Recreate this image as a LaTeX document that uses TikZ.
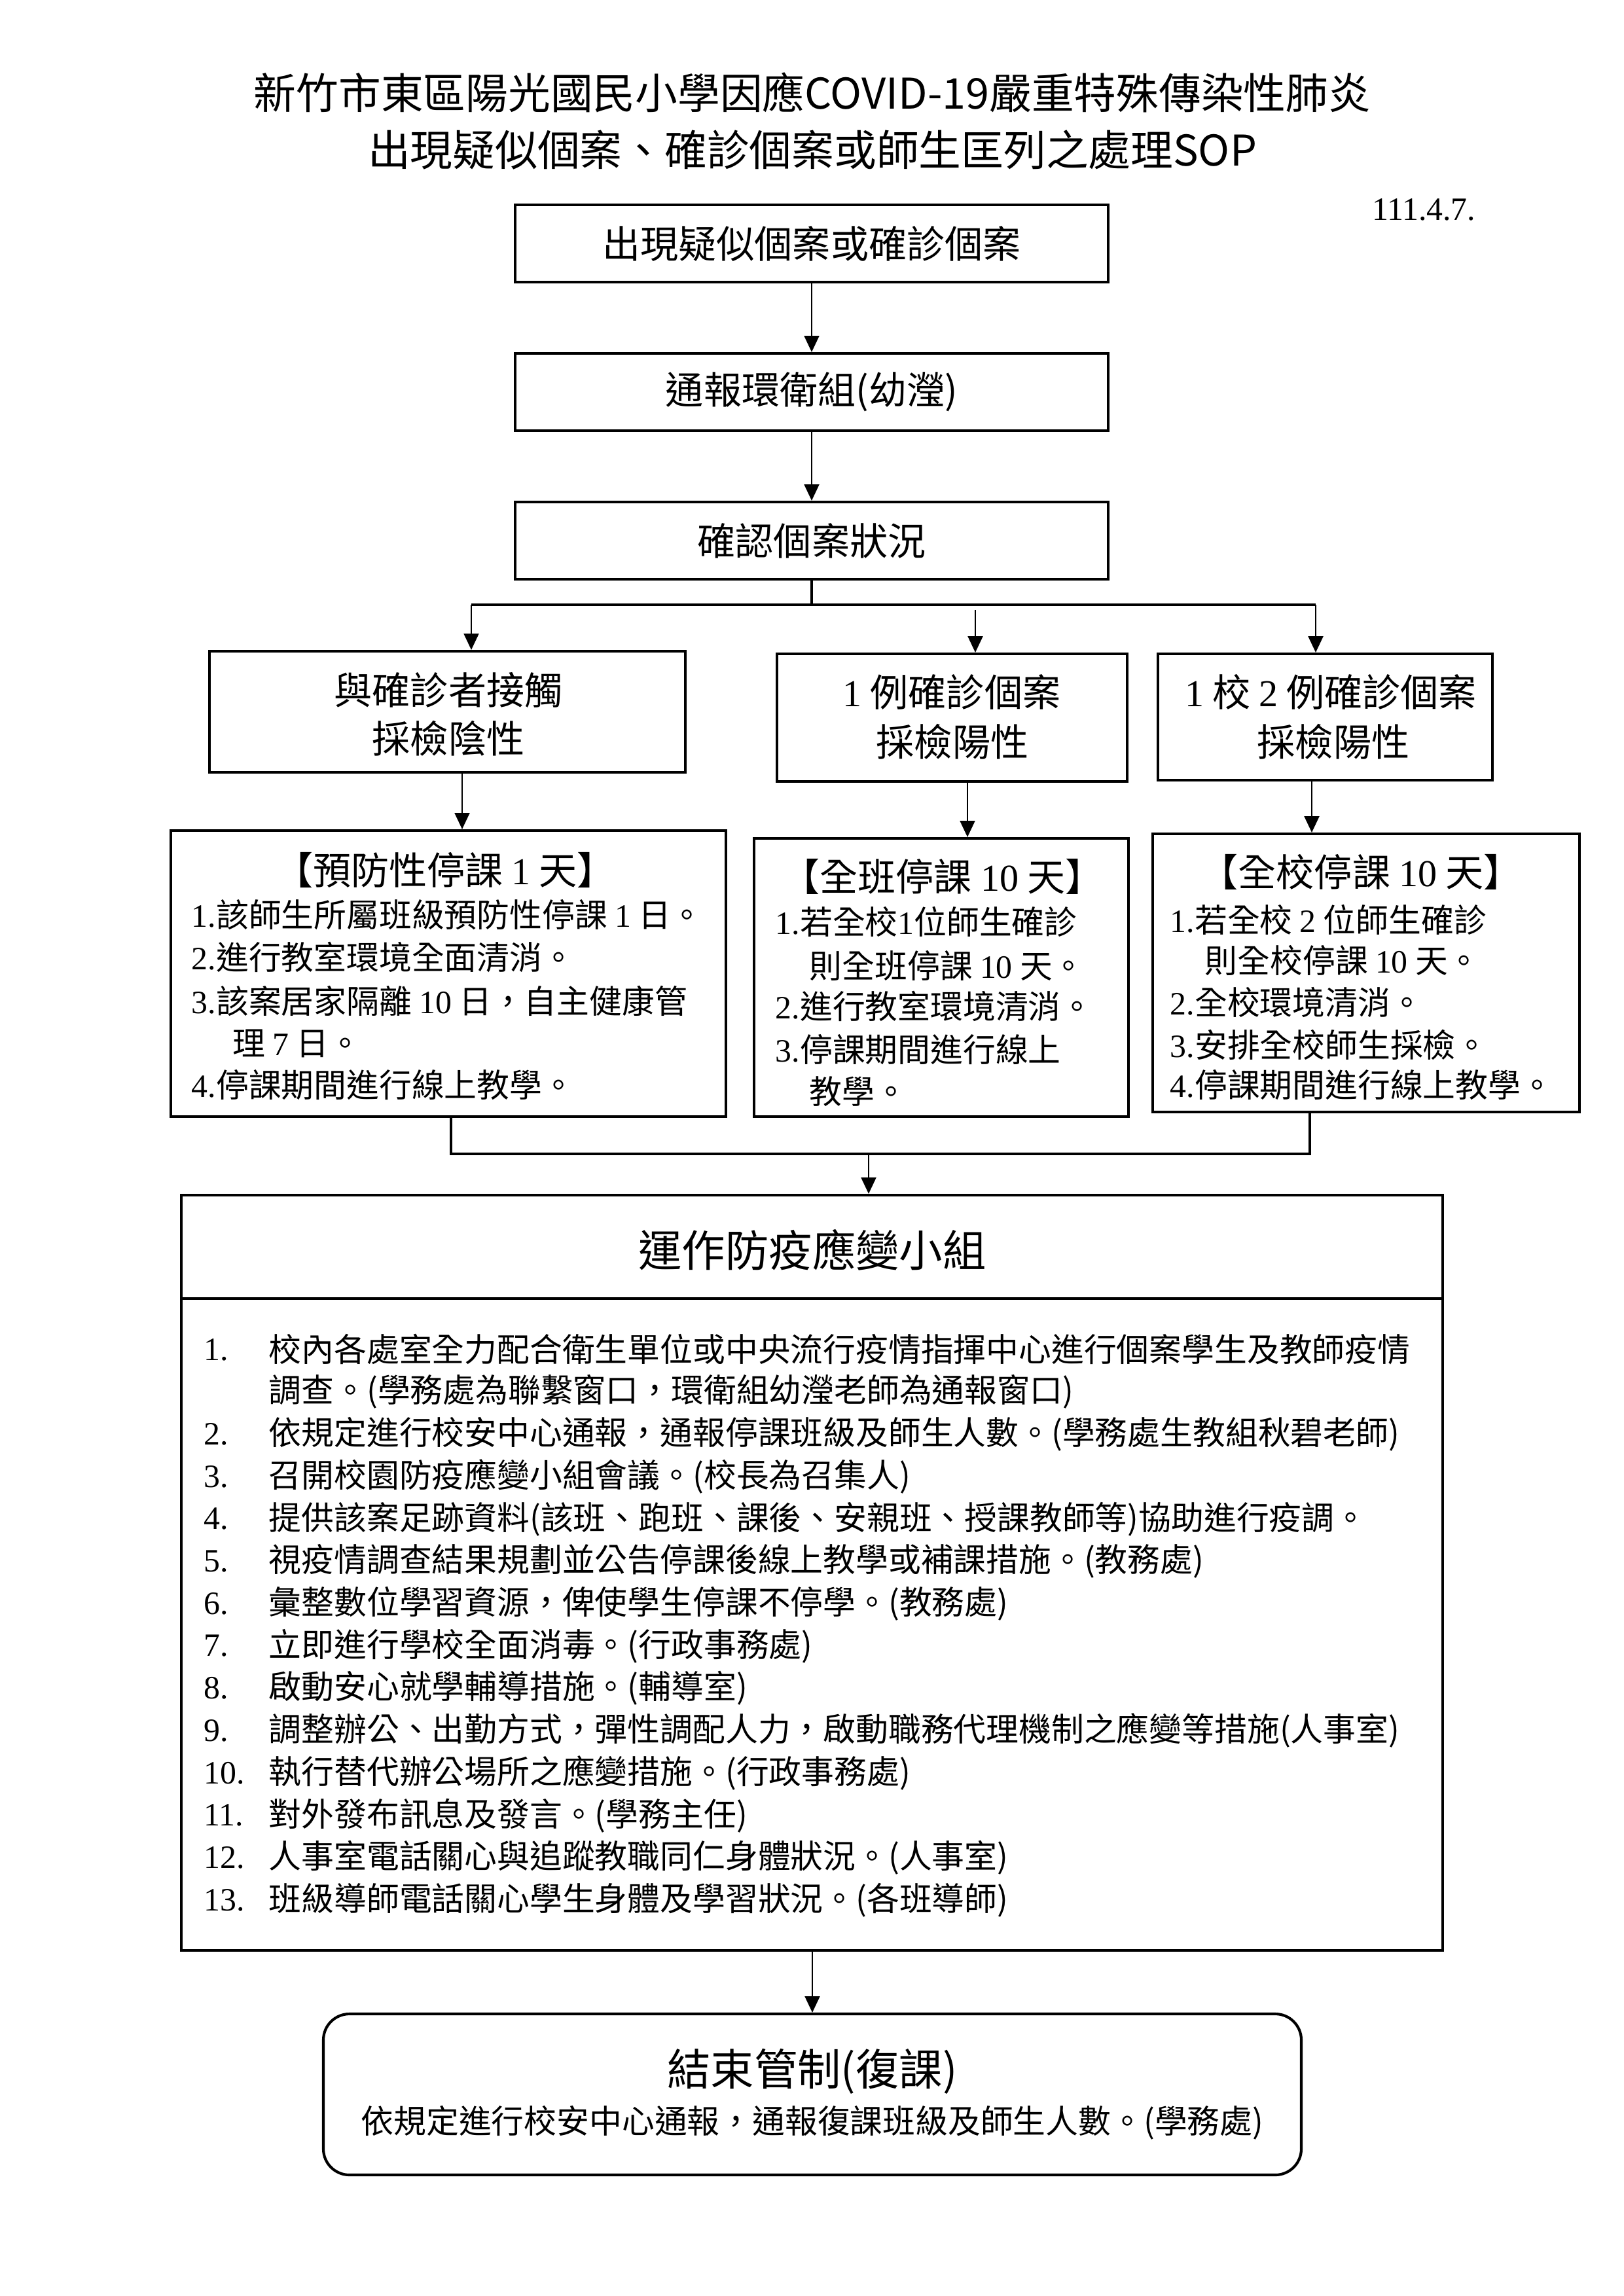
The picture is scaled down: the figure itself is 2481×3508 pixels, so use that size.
\documentclass[tikz,border=0pt]{standalone}
\usepackage{fontspec}
\setmainfont{Noto Sans CJK TC}
\newfontfamily\tm{Liberation Serif}
\usetikzlibrary{fit,arrows.meta}
\newcommand\nm[1]{{\tm #1}}
\tikzset{
  box/.style={draw, line width=1pt, inner sep=0pt},
  arr/.style={line width=0.6pt, -{Triangle[length=6pt,width=5.5pt]}},
  ln/.style={line width=0.8pt},
  t12/.style={font=\fontsize{12pt}{15pt}\selectfont, inner sep=0pt},
  t14/.style={font=\fontsize{14pt}{17pt}\selectfont, inner sep=0pt},
  t16/.style={font=\fontsize{16pt}{19pt}\selectfont, inner sep=0pt},
  ttl/.style={font=\fontsize{15.6pt}{19pt}\selectfont, inner sep=0pt},
  it12/.style={t12, anchor=west},
}
\begin{document}
\begin{tikzpicture}[x=0.2409pt,y=-0.2409pt]
\fill[white] (0,0) rectangle (2481,3508);
\useasboundingbox (0,0) rectangle (2481,3508);

% title
\node[ttl] (title1) at (1241,141) {新竹市東區陽光國民小學因應COVID-19嚴重特殊傳染性肺炎};
\node[ttl] (title2) at (1241,229) {出現疑似個案、確診個案或師生匡列之處理SOP};
\node[anchor=east, inner sep=0pt, font=\tm\fontsize{12pt}{14pt}\selectfont] (date) at (2255,320) {111.4.7.};

% top chain
\node[box, fit={(787,313) (1693,431)}] (b1) {};
\node[t14] (b1t) at (b1.center) {出現疑似個案或確診個案};
\node[box, fit={(787,540) (1693,658)}] (b2) {};
\node[t14] (b2t) at (b2.center) {通報環衛組(幼瀅)};
\node[box, fit={(787,767) (1693,885)}] (b3) {};
\node[t14] (b3t) at (b3.center) {確認個案狀況};
\draw[arr] (b1.south) -- (b2.north);
\draw[arr] (b2.south) -- (b3.north);

% branch
\coordinate (brL) at (720,924);
\coordinate (brR) at (2010,924);
\coordinate (brM) at (1490,932);
\draw[ln] (b3.south) -- (b3.south |- brL);
\draw[ln] (brL) -- (brR);

% second row
\node[box, fit={(320,995) (1047,1180)}] (b4) {};
\node[t14] (b4a) at (685,1054) {與確診者接觸};
\node[t14] (b4b) at (685,1128) {採檢陰性};
\node[box, fit={(1187,999) (1722,1194)}] (b5) {};
\node[t14] (b5a) at (1454,1057) {\nm{1} 例確診個案};
\node[t14] (b5b) at (1455,1133) {採檢陽性};
\node[box, fit={(1769,999) (2280,1192)}] (b6) {};
\node[t14] (b6a) at (2033,1057) {\nm{1} 校 \nm{2} 例確診個案};
\node[t14] (b6b) at (2037,1133) {採檢陽性};

\draw[arr] (brL) -- (brL |- b4.north);
\draw[arr] (brM) -- (brM |- b5.north);
\draw[arr] (brR) -- (brR |- b6.north);

% third row
\node[box, fit={(261,1269) (1109,1706)}] (b7) {};
\node[t14] (b7h) at (680,1329) {【預防性停課 \nm{1} 天】};
\node[it12] (b7i1) at (292,1398) {\nm{1.}該師生所屬班級預防性停課 \nm{1} 日。};
\node[it12] (b7i2) at (292,1462) {\nm{2.}進行教室環境全面清消。};
\node[it12] (b7i3) at (292,1529) {\nm{3.}該案居家隔離 \nm{10} 日，自主健康管};
\node[it12] (b7i4) at (355,1594) {理 \nm{7} 日。};
\node[it12] (b7i5) at (292,1658) {\nm{4.}停課期間進行線上教學。};

\node[box, fit={(1152,1281) (1724,1706)}] (b8) {};
\node[t14] (b8h) at (1440,1339) {【全班停課 \nm{10} 天】};
\node[it12] (b8i1) at (1184,1408) {\nm{1.}若全校\nm{1}位師生確診};
\node[it12] (b8i2) at (1236,1475) {則全班停課 \nm{10} 天。};
\node[it12] (b8i3) at (1184,1537) {\nm{2.}進行教室環境清消。};
\node[it12] (b8i4) at (1184,1604) {\nm{3.}停課期間進行線上};
\node[it12] (b8i5) at (1236,1668) {教學。};

\node[box, fit={(1761,1274) (2413,1699)}] (b9) {};
\node[t14] (b9h) at (2079,1332) {【全校停課 \nm{10} 天】};
\node[it12] (b9i1) at (1787,1405) {\nm{1.}若全校 \nm{2} 位師生確診};
\node[it12] (b9i2) at (1840,1467) {則全校停課 \nm{10} 天。};
\node[it12] (b9i3) at (1787,1532) {\nm{2.}全校環境清消。};
\node[it12] (b9i4) at (1787,1596) {\nm{3.}安排全校師生採檢。};
\node[it12] (b9i5) at (1787,1658) {\nm{4.}停課期間進行線上教學。};

\coordinate (a4) at (706,0);
\coordinate (a5) at (1478,0);
\coordinate (a6) at (2004,0);
\draw[arr] (a4 |- b4.south) -- (a4 |- b7.north);
\draw[arr] (a5 |- b5.south) -- (a5 |- b8.north);
\draw[arr] (a6 |- b6.south) -- (a6 |- b9.north);

% merge
\coordinate (mL) at (689,1763);
\coordinate (mR) at (2001,1763);
\coordinate (mM) at (1327,1763);
\draw[ln] (mL |- b7.south) -- (mL) -- (mR) -- (mR |- b9.south);

% big box
\node[box, fit={(277,1826) (2204,1984)}] (b10h) {};
\node[t16] (b10t) at (1241,1910) {運作防疫應變小組};
\node[box, fit={(277,1984) (2204,2980)}] (b10b) {};
\draw[arr] (mM) -- (mM |- b10h.north);

\foreach \k/\num/\txt in {
 1/1./{校內各處室全力配合衛生單位或中央流行疫情指揮中心進行個案學生及教師疫情},
 2//{調查。(學務處為聯繫窗口，環衛組幼瀅老師為通報窗口)},
 3/2./{依規定進行校安中心通報，通報停課班級及師生人數。(學務處生教組秋碧老師)},
 4/3./{召開校園防疫應變小組會議。(校長為召集人)},
 5/4./{提供該案足跡資料(該班、跑班、課後、安親班、授課教師等)協助進行疫調。},
 6/5./{視疫情調查結果規劃並公告停課後線上教學或補課措施。(教務處)},
 7/6./{彙整數位學習資源，俾使學生停課不停學。(教務處)},
 8/7./{立即進行學校全面消毒。(行政事務處)},
 9/8./{啟動安心就學輔導措施。(輔導室)},
 10/9./{調整辦公、出勤方式，彈性調配人力，啟動職務代理機制之應變等措施(人事室)},
 11/10./{執行替代辦公場所之應變措施。(行政事務處)},
 12/11./{對外發布訊息及發言。(學務主任)},
 13/12./{人事室電話關心與追蹤教職同仁身體狀況。(人事室)},
 14/13./{班級導師電話關心學生身體及學習狀況。(各班導師)}
}{
  \node[it12] (n\k) at (311,{2062+64.7*(\k-1)}) {\nm{\num}};
  \node[it12] (l\k) at (410,{2062+64.7*(\k-1)}) {\txt};
}

% end box
\node[box, rounded corners=9.6pt, fit={(494,3077) (1988,3323)}] (b11) {};
\node[t16] (b11a) at (1241,3165) {結束管制(復課)};
\node[t12] (b11b) at (1241,3243) {依規定進行校安中心通報，通報復課班級及師生人數。(學務處)};
\draw[arr] (b11.north |- b10b.south) -- (b11.north);
\end{tikzpicture}
\end{document}
